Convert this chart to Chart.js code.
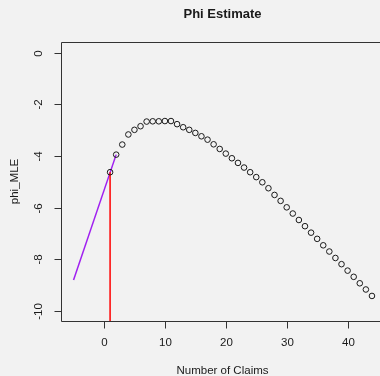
<!DOCTYPE html>
<html>
<head>
<meta charset="utf-8">
<script src="https://cdn.jsdelivr.net/npm/chart.js@4"></script>
<style>
  html, body { margin: 0; padding: 0; background: #f2f2f2; }
  #chart { display: block; }
</style>
</head>
<body>
<canvas id="chart" width="380" height="376"></canvas>
<script>
// Claim counts and the estimated phi for each one
const claims = [1, 2, 3, 4, 5, 6, 7, 8, 9, 10, 11, 12, 13, 14, 15, 16, 17, 18, 19, 20, 21, 22,
    23, 24, 25, 26, 27, 28, 29, 30, 31, 32, 33, 34, 35, 36, 37, 38, 39, 40, 41, 42, 43, 44];
const phiMle = [-4.63, -3.95, -3.56, -3.17, -2.99, -2.85, -2.67, -2.66, -2.66, -2.65, -2.65,
    -2.77, -2.89, -2.99, -3.11, -3.24, -3.37, -3.55, -3.73, -3.91, -4.09, -4.27,
    -4.45, -4.63, -4.82, -5.02, -5.25, -5.51, -5.74, -5.99, -6.23, -6.48, -6.72,
    -6.97, -7.21, -7.46, -7.70, -7.95, -8.19, -8.44, -8.68, -8.93, -9.17, -9.42];

// Tangent (purple) and the vertical marker at the first claim (red)
const tangentX = [-5, 2];
const tangentY = [-8.80, -3.95];
const markerX = [1, 1];
const markerY = [-10.39, -4.63];

const xTicks = [0, 10, 20, 30, 40];
const yTicks = [0, -2, -4, -6, -8, -10];

const ink = "#1a1a1a";

// Draws background, R-style box, ticks and all text
const rStyle = {
    id: "rStyle",
    beforeDraw(chart) {
        const ctx = chart.ctx;
        ctx.save();
        ctx.fillStyle = "#f2f2f2";
        ctx.fillRect(0, 0, chart.width, chart.height);
        ctx.restore();
    },
    afterDraw(chart) {
        const ctx = chart.ctx;
        const a = chart.chartArea;
        const xs = chart.scales.x;
        const ys = chart.scales.y;
        ctx.save();
        ctx.strokeStyle = "#333";
        ctx.lineWidth = 1;

        // box (right side falls off the canvas)
        const l = Math.round(a.left) + 0.5, t = Math.round(a.top) + 0.5, b = Math.round(a.bottom) + 0.5;
        ctx.beginPath();
        ctx.moveTo(chart.width + 2, t);
        ctx.lineTo(l, t);
        ctx.lineTo(l, b);
        ctx.lineTo(chart.width + 2, b);
        ctx.stroke();

        ctx.fillStyle = ink;
        ctx.font = "11.5px 'Liberation Sans', Arial, sans-serif";

        // x ticks
        ctx.textAlign = "center";
        ctx.textBaseline = "middle";
        for (const v of xTicks) {
            const px = Math.round(xs.getPixelForValue(v)) + 0.5;
            ctx.beginPath();
            ctx.moveTo(px, b);
            ctx.lineTo(px, b + 7);
            ctx.stroke();
            ctx.fillText(String(v), px, 343);
        }

        // y ticks, labels rotated like base R
        for (const v of yTicks) {
            const py = Math.round(ys.getPixelForValue(v)) + 0.5;
            ctx.beginPath();
            ctx.moveTo(l, py);
            ctx.lineTo(l - 7, py);
            ctx.stroke();
            ctx.save();
            ctx.translate(39, py);
            ctx.rotate(-Math.PI / 2);
            ctx.fillText(String(v), 0, 0);
            ctx.restore();
        }

        // axis titles
        ctx.fillText("Number of Claims", 222.5, 371);
        ctx.save();
        ctx.translate(15, (a.top + a.bottom) / 2);
        ctx.rotate(-Math.PI / 2);
        ctx.fillText("phi_MLE", 0, 0);
        ctx.restore();

        // main title
        ctx.font = "bold 13px 'Liberation Sans', Arial, sans-serif";
        ctx.fillText("Phi Estimate", 222.5, 14);
        ctx.restore();
    }
};

new Chart(document.getElementById("chart"), {
    type: "scatter",
    data: {
        datasets: [
            {
                type: "line",
                data: tangentX.map((x, i) => ({ x: x, y: tangentY[i] })),
                borderColor: "#a020f0",
                borderWidth: 1.5,
                pointRadius: 0,
                order: 2
            },
            {
                type: "line",
                data: markerX.map((x, i) => ({ x: x, y: markerY[i] })),
                borderColor: "#ff0000",
                borderWidth: 1.5,
                pointRadius: 0,
                order: 1
            },
            {
                data: claims.map((x, i) => ({ x: x, y: phiMle[i] })),
                pointStyle: "circle",
                pointRadius: 2.8,
                borderWidth: 1,
                borderColor: ink,
                backgroundColor: "transparent",
                order: 0
            }
        ]
    },
    options: {
        responsive: false,
        animation: false,
        events: [],
        layout: { autoPadding: false, padding: { top: 42, right: 0, left: 0, bottom: 0 } },
        plugins: { legend: { display: false }, tooltip: { enabled: false }, title: { display: false } },
        scales: {
            x: {
                type: "linear",
                min: -7.06,
                max: 45.32,
                grid: { display: false },
                border: { display: false },
                ticks: { display: false },
                afterFit: (s) => { s.height = 55; }
            },
            y: {
                type: "linear",
                min: -10.39,
                max: 0.41,
                grid: { display: false },
                border: { display: false },
                ticks: { display: false },
                afterFit: (s) => { s.width = 61; }
            }
        }
    },
    plugins: [rStyle]
});
</script>
</body>
</html>
